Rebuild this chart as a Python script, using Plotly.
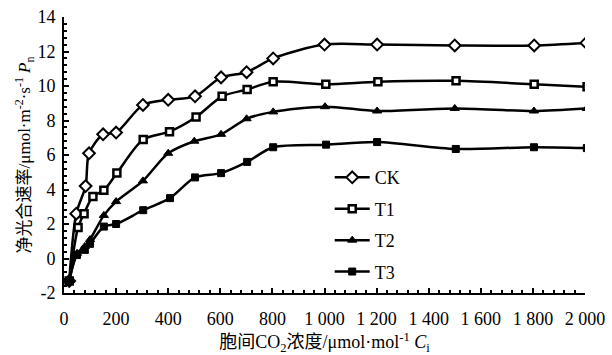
import plotly.graph_objects as go

# Data
ck_x = [20, 47, 83, 96, 150, 200, 303, 400, 503, 603, 701, 803, 1000, 1202, 1500, 1805, 2005]
ck_y = [-1.3, 2.6, 4.2, 6.1, 7.2, 7.3, 8.9, 9.2, 9.4, 10.5, 10.8, 11.6, 12.4, 12.4, 12.35, 12.35, 12.5]

t1_x = [20, 54, 77, 111, 153, 203, 304, 405, 507, 607, 703, 803, 1005, 1205, 1505, 1805, 2008]
t1_y = [-1.3, 1.8, 2.6, 3.6, 3.95, 4.95, 6.9, 7.35, 8.2, 9.4, 9.8, 10.25, 10.1, 10.25, 10.3, 10.1, 9.95]

t2_x = [20, 50, 80, 100, 153, 200, 303, 400, 500, 603, 701, 803, 1002, 1202, 1500, 1804, 2007]
t2_y = [-1.3, 0.3, 0.7, 1.1, 2.5, 3.3, 4.5, 6.1, 6.8, 7.2, 8.1, 8.5, 8.8, 8.55, 8.7, 8.55, 8.7]

t3_x = [20, 50, 80, 100, 153, 200, 304, 407, 503, 603, 703, 803, 1006, 1202, 1504, 1804, 2007]
t3_y = [-1.3, 0.2, 0.5, 0.85, 1.85, 2.0, 2.8, 3.5, 4.7, 4.95, 5.6, 6.45, 6.6, 6.75, 6.35, 6.45, 6.4]

x_ticks = [0, 200, 400, 600, 800, 1000, 1200, 1400, 1600, 1800, 2000]
x_tick_text = ["0", "200", "400", "600", "800", "1 000", "1 200", "1 400", "1 600", "1 800", "2 000"]
y_ticks = [-2, 0, 2, 4, 6, 8, 10, 12, 14]
y_tick_text = ["-2", "0", "2", "4", "6", "8", "10", "12", "14"]

FONT = "Liberation Serif, Times New Roman, Noto Sans CJK SC, serif"

fig = go.Figure()
series = [
    ("CK", ck_x, ck_y, dict(symbol="diamond", size=9, color="white", line=dict(color="black", width=2))),
    ("T1", t1_x, t1_y, dict(symbol="square", size=7, color="white", line=dict(color="black", width=2.5))),
    ("T2", t2_x, t2_y, dict(symbol="triangle-up", size=8, color="black", line=dict(color="black", width=1))),
    ("T3", t3_x, t3_y, dict(symbol="square", size=7, color="black", line=dict(color="black", width=1))),
]
for name, xs, ys, mk in series:
    fig.add_trace(go.Scatter(
        x=xs, y=ys, name=name, mode="lines+markers", legendgroup=name,
        line=dict(color="black", width=2.5, shape="spline", smoothing=0.8),
        marker=mk,
    ))

fig.update_layout(
    width=612, height=355,
    margin=dict(l=64, r=27, t=17, b=62, autoexpand=False),
    paper_bgcolor="white", plot_bgcolor="white",
    font=dict(family=FONT, size=18, color="black"),
    showlegend=True,
    legend=dict(x=0.51, y=0.485, xanchor="left", yanchor="top",
                bgcolor="rgba(0,0,0,0)", font=dict(size=18, family=FONT),
                tracegroupgap=5, itemwidth=35),
)
fig.update_xaxes(
    range=[0, 2000], tickvals=x_ticks, ticktext=x_tick_text,
    showline=True, linecolor="black", linewidth=2, mirror=False,
    ticks="inside", ticklen=5, tickwidth=2, tickcolor="black",
    minor=dict(dtick=40, ticks="inside", ticklen=3, tickwidth=2, tickcolor="black", showgrid=False),
    showgrid=False, zeroline=False, ticklabelstandoff=8, automargin=False,
    title=dict(text="胞间CO<sub>2</sub>浓度/μmol·mol<sup>-1</sup> <i>C</i><sub>i</sub>", font=dict(size=18), standoff=10),
    tickfont=dict(size=18),
)
fig.update_yaxes(
    range=[-2, 14], tickvals=y_ticks, ticktext=y_tick_text,
    showline=True, linecolor="black", linewidth=2, mirror=False,
    ticks="inside", ticklen=5, tickwidth=2, tickcolor="black",
    minor=dict(dtick=0.4, ticks="inside", ticklen=3, tickwidth=2, tickcolor="black", showgrid=False),
    showgrid=False, zeroline=False, ticklabelstandoff=3, automargin=False,
    title=dict(text="净光合速率/μmol·m<sup>-2</sup>·s<sup>-1</sup> <i>P</i><sub>n</sub>", font=dict(size=17), standoff=2),
    tickfont=dict(size=18),
)

fig.write_html("out.html", config={"displayModeBar": False},
               post_script="document.body.style.margin='0px';")
